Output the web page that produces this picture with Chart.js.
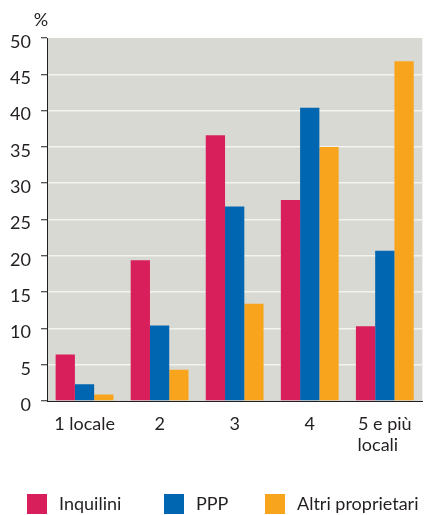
<!DOCTYPE html>
<html>
<head>
<meta charset="utf-8">
<script src="https://cdn.jsdelivr.net/npm/chart.js@4/dist/chart.umd.min.js"></script>
<style>
  html, body { margin: 0; padding: 0; background: #ffffff; }
  #wrap { width: 424px; height: 515px; }
</style>
</head>
<body>
<div id="wrap"><canvas id="chart" width="424" height="515"></canvas></div>
<script>
// Numero di locali dell'abitazione, quota percentuale per tipo di occupante
const categories = ['1 locale', '2', '3', '4', ['5 e più', 'locali']];
const seriesNames = ['Inquilini', 'PPP', 'Altri proprietari'];
const inquilini = [6.4, 19.4, 36.6, 27.7, 10.3];
const ppp = [2.3, 10.4, 26.8, 40.4, 20.7];
const altriProprietari = [0.9, 4.3, 13.4, 35.0, 46.8];
const yMax = 50;
const yStep = 5;
const unitLabel = '%';

const seriesColors = ['#d81e5b', '#0066b1', '#f8a51d'];
const textColor = '#231f20';
const fontFamily = 'Lato, "Open Sans", sans-serif';
const fontSize = 18;

Chart.defaults.font.family = fontFamily;
Chart.defaults.font.size = fontSize;
Chart.defaults.color = textColor;

// Pads the lower lines of a multi-line label so that, centred, they start flush left
const measureCtx = document.createElement('canvas').getContext('2d');
measureCtx.font = fontSize + 'px ' + fontFamily;
function leftAlignLines(label) {
  if (!Array.isArray(label)) return label;
  const widths = label.map(s => measureCtx.measureText(s).width);
  const maxW = Math.max(...widths);
  const spaceW = measureCtx.measureText(' ').width;
  return label.map((s, i) => s + ' '.repeat(Math.round((maxW - widths[i]) / spaceW)));
}

const plotBackground = {
  id: 'plotBackground',
  beforeDraw(chart) {
    const { ctx, chartArea: a } = chart;
    ctx.save();
    ctx.fillStyle = '#d9d9d3';
    ctx.fillRect(a.left, a.top, a.right - a.left, a.bottom - a.top);
    ctx.restore();
  }
};

// Unit label above the value axis and a legend row along the bottom
const annotations = {
  id: 'annotations',
  afterDraw(chart) {
    const { ctx } = chart;
    const y = chart.scales.y;
    ctx.save();
    ctx.fillStyle = textColor;
    ctx.font = fontSize + 'px ' + fontFamily;
    ctx.textAlign = 'center';
    ctx.textBaseline = 'middle';
    ctx.fillText(unitLabel, y.right - 6, 20);

    const legendX = [27, 164, 265];
    const boxTop = 494, box = 20;
    ctx.textAlign = 'left';
    chart.data.datasets.forEach((ds, i) => {
      ctx.fillStyle = ds.backgroundColor;
      ctx.fillRect(legendX[i], boxTop, box, box);
      ctx.fillStyle = textColor;
      ctx.fillText(ds.label, legendX[i] + box + 12, boxTop + box / 2);
    });
    ctx.restore();
  }
};

new Chart(document.getElementById('chart'), {
  type: 'bar',
  data: {
    labels: categories,
    datasets: [
      { label: seriesNames[0], data: inquilini, backgroundColor: seriesColors[0] },
      { label: seriesNames[1], data: ppp, backgroundColor: seriesColors[1] },
      { label: seriesNames[2], data: altriProprietari, backgroundColor: seriesColors[2] }
    ]
  },
  options: {
    responsive: false,
    animation: false,
    devicePixelRatio: 1,
    layout: { padding: { top: 38, right: 0, bottom: 0, left: 0 } },
    datasets: {
      bar: { categoryPercentage: 0.77, barPercentage: 1.0, borderWidth: 0 }
    },
    plugins: {
      legend: { display: false },
      tooltip: { enabled: false }
    },
    scales: {
      x: {
        afterFit(scale) { scale.height = 114; },
        grid: { display: false, drawTicks: false },
        border: { display: true, color: textColor, width: 1 },
        ticks: {
          padding: 12,
          color: textColor,
          font: { size: fontSize, lineHeight: 1.2 },
          maxRotation: 0,
          autoSkip: false,
          callback(value, index) { return leftAlignLines(categories[index]); }
        }
      },
      y: {
        min: 0,
        max: yMax,
        afterFit(scale) { scale.width = 47; },
        grid: {
          color(c) {
            const v = c.tick ? c.tick.value : null;
            return (v === 0 || v === yMax) ? 'rgba(0,0,0,0)' : '#f3f3ef';
          },
          lineWidth: 1.5,
          tickColor: textColor,
          tickWidth: 1,
          tickLength: 6
        },
        border: { display: true, color: textColor, width: 1 },
        ticks: {
          stepSize: yStep,
          padding: 10,
          labelOffset: 4,
          color: textColor,
          font: { size: fontSize }
        }
      }
    }
  },
  plugins: [plotBackground, annotations]
});
</script>
</body>
</html>
